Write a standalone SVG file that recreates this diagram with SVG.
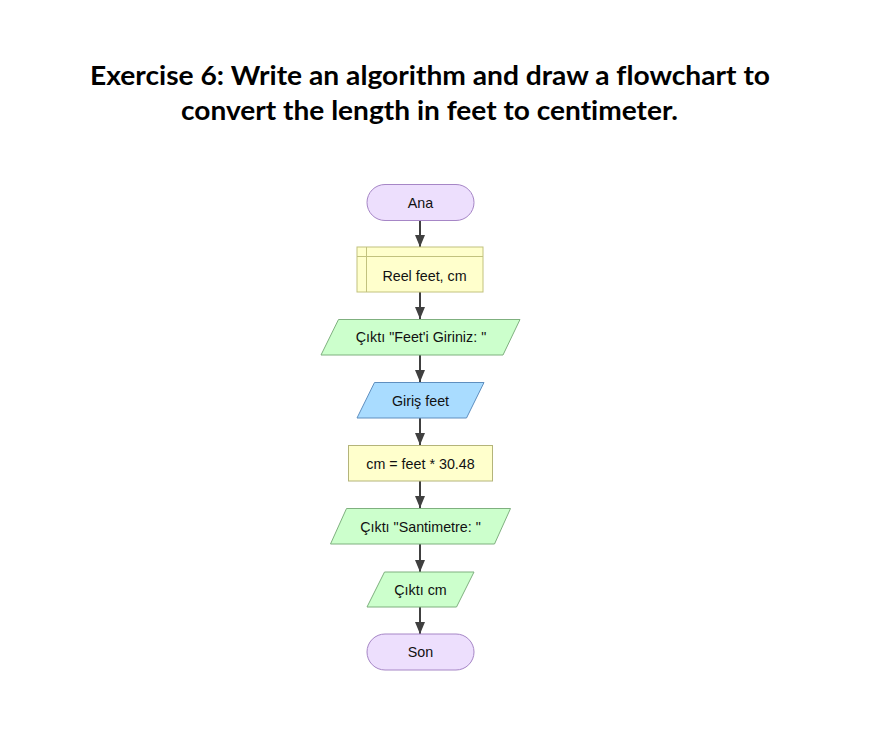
<svg xmlns="http://www.w3.org/2000/svg" width="882" height="737" viewBox="0 0 882 737">
<defs>
<style>
.title{font-family:Lato,"Open Sans",sans-serif;font-weight:bold;font-size:26px;fill:#000;font-variant-ligatures:none;font-feature-settings:"liga" 0;}
.lbl{font-family:"Liberation Sans",Arial,sans-serif;font-size:14.3px;fill:#111;text-anchor:middle;}
.term{fill:#eddffd;stroke:#a686c6;stroke-width:1;}
.decl{fill:#ffffcc;stroke:#c2c27e;stroke-width:1;}
.proc{fill:#ffffcc;stroke:#b4b47a;stroke-width:1;}
.out{fill:#ccffcc;stroke:#7fb07f;stroke-width:1;}
.inp{fill:#a9dcff;stroke:#5f8fbf;stroke-width:1;}
.conn{stroke:#404040;stroke-width:2;fill:none;marker-end:url(#ah);}
</style>
<marker id="ah" viewBox="0 0 12 10" refX="12" refY="5" markerWidth="12" markerHeight="10" markerUnits="userSpaceOnUse" orient="auto">
<path d="M0,0 L12,5 L0,10 z" fill="#404040"/>
</marker>
</defs>
<rect width="882" height="737" fill="#ffffff"/>
<g id="title">
<text class="title" x="90" y="85" textLength="680" lengthAdjust="spacingAndGlyphs">Exercise 6: Write an algorithm and draw a flowchart to</text>
<text class="title" x="181" y="120" textLength="497" lengthAdjust="spacingAndGlyphs">convert the length in feet to centimeter.</text>
</g>
<g id="connectors">
<line class="conn" x1="420" y1="221" x2="420" y2="247"/>
<line class="conn" x1="420" y1="292" x2="420" y2="319"/>
<line class="conn" x1="420" y1="355" x2="420" y2="382"/>
<line class="conn" x1="420" y1="418" x2="420" y2="445"/>
<line class="conn" x1="420" y1="481" x2="420" y2="508"/>
<line class="conn" x1="420" y1="544" x2="420" y2="572"/>
<line class="conn" x1="420" y1="607" x2="420" y2="634"/>
</g>
<g id="ana">
<rect class="term" x="367" y="184.5" width="107" height="36" rx="18" ry="18"/>
<text class="lbl" x="420.5" y="207.5">Ana</text>
</g>
<g id="decl">
<rect class="decl" x="357" y="247" width="126" height="45"/>
<line x1="357" y1="256.5" x2="483" y2="256.5" stroke="#c2c27e" stroke-width="1"/>
<line x1="366.5" y1="247" x2="366.5" y2="292" stroke="#c2c27e" stroke-width="1"/>
<text class="lbl" x="424.5" y="280.5">Reel feet, cm</text>
</g>
<g id="out1">
<polygon class="out" points="338.5,319.5 520,319.5 503,355 321,355"/>
<text class="lbl" x="421" y="342">Çıktı "Feet'i Giriniz: "</text>
</g>
<g id="inp">
<polygon class="inp" points="374.5,382.5 484,382.5 466.5,418 357,418"/>
<text class="lbl" x="420.5" y="405.5">Giriş feet</text>
</g>
<g id="proc">
<rect class="proc" x="348.5" y="445.5" width="144" height="35.5"/>
<text class="lbl" x="420.5" y="468.5">cm = feet * 30.48</text>
</g>
<g id="out2">
<polygon class="out" points="346.5,508.5 510.5,508.5 494.5,544 330.5,544"/>
<text class="lbl" x="420.5" y="531.5">Çıktı "Santimetre: "</text>
</g>
<g id="out3">
<polygon class="out" points="384.5,572 474,572 456.5,607 367,607"/>
<text class="lbl" x="420.5" y="594.5">Çıktı cm</text>
</g>
<g id="son">
<rect class="term" x="367" y="634" width="107" height="36" rx="18" ry="18"/>
<text class="lbl" x="420.5" y="657">Son</text>
</g>
</svg>
